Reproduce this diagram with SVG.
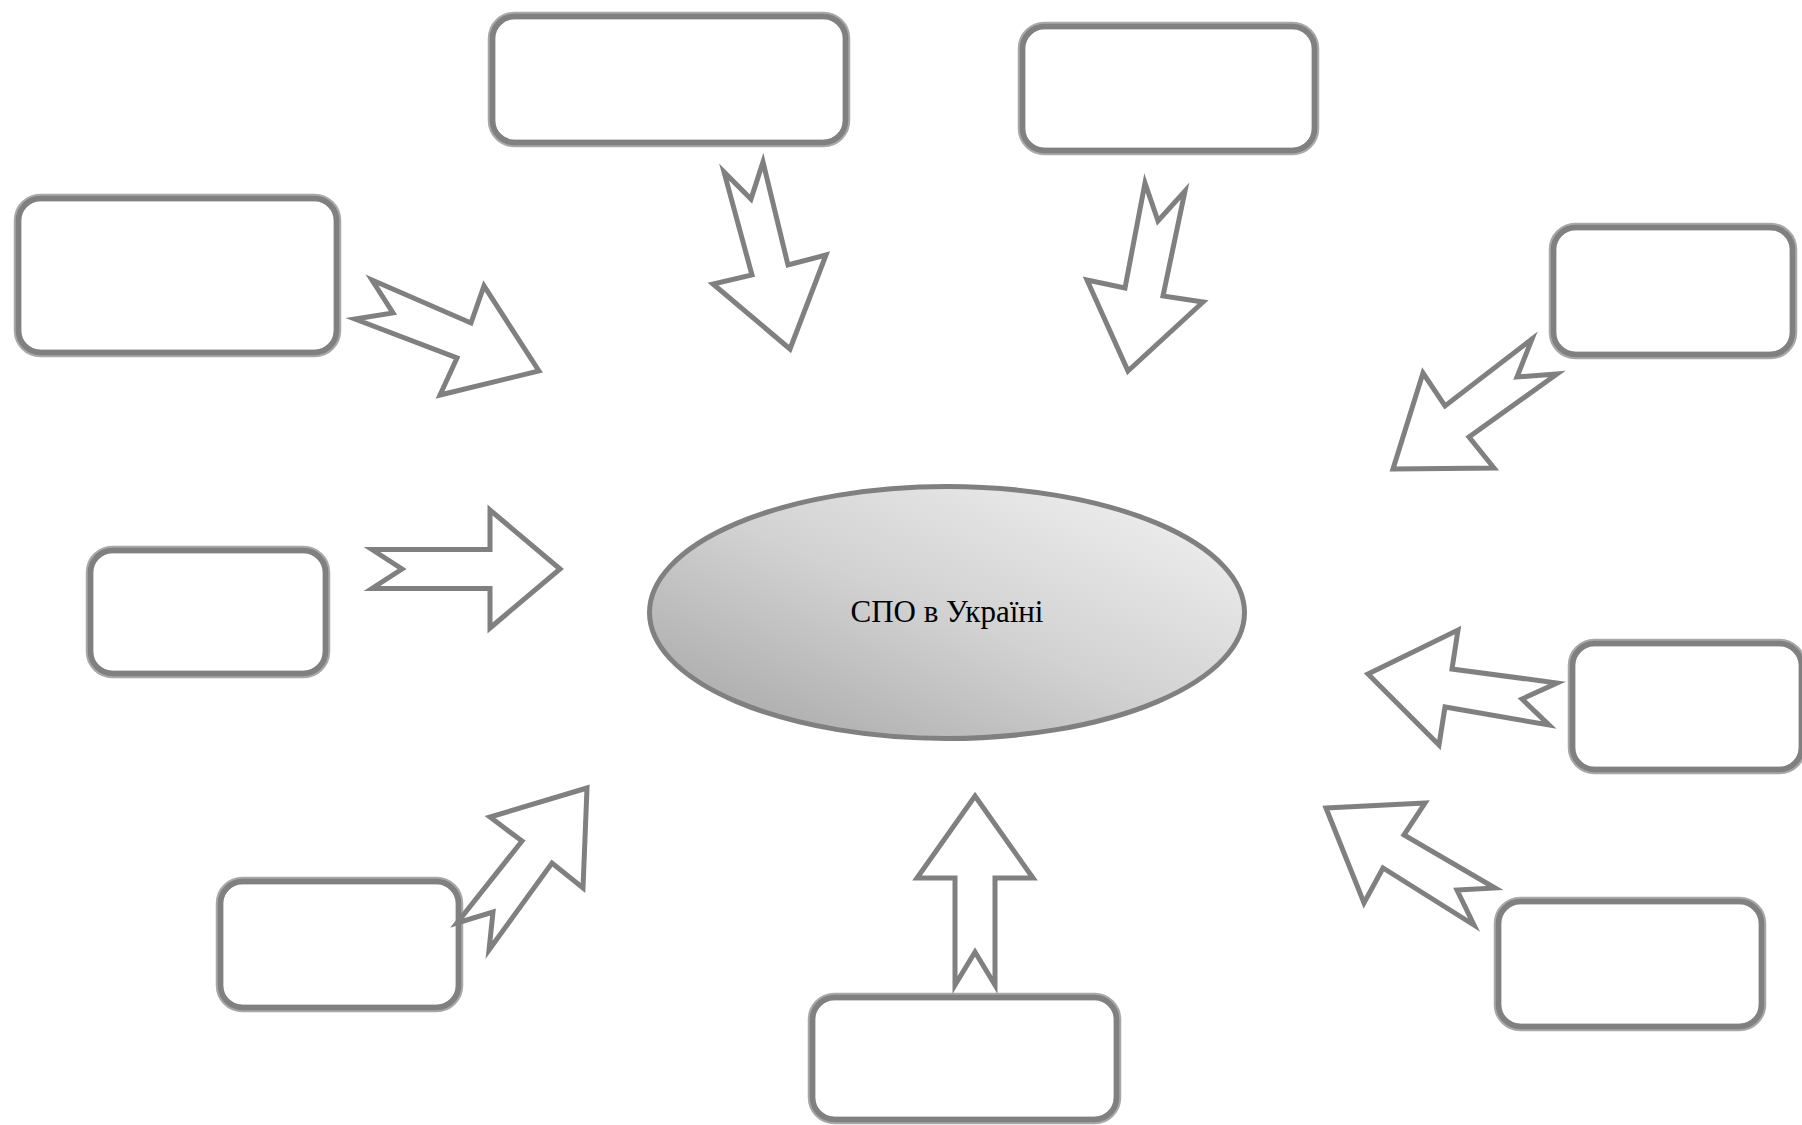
<svg xmlns="http://www.w3.org/2000/svg" width="1802" height="1125" viewBox="0 0 1802 1125">
  <style>
    .edge { fill: #ffffff; stroke: #a8a8a8; stroke-width: 7.5; }
    .line { fill: none; stroke: #808080; stroke-width: 5.5; }
    .arrow { fill: #ffffff; stroke: #808080; stroke-width: 5; stroke-linejoin: miter; stroke-miterlimit: 10; }
    .hub { stroke: #808080; stroke-width: 5; }
    .label { font-family: "Liberation Serif", "DejaVu Serif", serif; font-size: 31px; fill: #000000; }
  </style>
  <defs>
    <linearGradient id="hubFill" x1="0" y1="1" x2="1" y2="0">
      <stop offset="0" stop-color="#a3a3a3"/>
      <stop offset="0.5" stop-color="#d2d2d2"/>
      <stop offset="1" stop-color="#f4f4f4"/>
    </linearGradient>
  </defs>
  <rect width="1802" height="1125" fill="#ffffff"/>

  <!-- central topic -->
  <g id="hub">
    <ellipse class="hub" cx="947" cy="612.5" rx="297.5" ry="126" fill="url(#hubFill)"/>
    <text class="label" x="947" y="622" text-anchor="middle">СПО в Україні</text>
  </g>

  <!-- surrounding empty boxes: light outer rim with a darker inner band -->
  <g id="box-top-center">
    <rect class="edge" x="491.5" y="15.5" width="355" height="128" rx="23"/>
    <rect class="line" x="492.5" y="16.5" width="353" height="126" rx="22"/>
  </g>
  <g id="box-top-right">
    <rect class="edge" x="1021.5" y="25.5" width="294" height="126" rx="23"/>
    <rect class="line" x="1022.5" y="26.5" width="292" height="124" rx="22"/>
  </g>
  <g id="box-left-top">
    <rect class="edge" x="17.5" y="197.5" width="320" height="156" rx="23"/>
    <rect class="line" x="18.5" y="198.5" width="318" height="154" rx="22"/>
  </g>
  <g id="box-right-top">
    <rect class="edge" x="1552.5" y="226.5" width="241" height="129" rx="23"/>
    <rect class="line" x="1553.5" y="227.5" width="239" height="127" rx="22"/>
  </g>
  <g id="box-left-middle">
    <rect class="edge" x="89.5" y="549.5" width="237" height="125" rx="23"/>
    <rect class="line" x="90.5" y="550.5" width="235" height="123" rx="22"/>
  </g>
  <g id="box-right-middle">
    <rect class="edge" x="1571.5" y="642.5" width="231" height="128" rx="23"/>
    <rect class="line" x="1572.5" y="643.5" width="229" height="126" rx="22"/>
  </g>
  <g id="box-right-bottom">
    <rect class="edge" x="1497.5" y="900.5" width="265" height="127" rx="23"/>
    <rect class="line" x="1498.5" y="901.5" width="263" height="125" rx="22"/>
  </g>
  <g id="box-left-bottom">
    <rect class="edge" x="219.5" y="880.5" width="240" height="128" rx="23"/>
    <rect class="line" x="220.5" y="881.5" width="238" height="126" rx="22"/>
  </g>
  <g id="box-bottom-center">
    <rect class="edge" x="811.5" y="996.5" width="306" height="124" rx="23"/>
    <rect class="line" x="812.5" y="997.5" width="304" height="122" rx="22"/>
  </g>

  <!-- notched block arrows pointing at the central topic -->
  <g id="connectors">
    <polygon class="arrow" points="539,371 484,286 471,323 372,280 393,313 355,319 457,358 440,395"/>
    <polygon class="arrow" points="790,349 826,255 788,265 763,162 751,199 724,172 752,275 713,284"/>
    <polygon class="arrow" points="1128,371 1203,302 1163,296 1185,191 1158,221 1145,183 1125,288 1087,280"/>
    <polygon class="arrow" points="1393,469 1494,468 1469,437 1557,374 1517,377 1532,339 1445,406 1423,373"/>
    <polygon class="arrow" points="560,569 490,510 490,549.5 372,549.5 402,569 372,588.5 490,588.5 490,628"/>
    <polygon class="arrow" points="1368,674 1458,630 1452,669 1557,683 1522,699 1549,725 1445,707 1439,745"/>
    <polygon class="arrow" points="1326,808 1425,803 1404,835 1495,888 1457,890 1474,925 1383,868 1364,903"/>
    <polygon class="arrow" points="587,788 490,817 522,841 457,923 493,912 489,950 552,863 583,888"/>
    <polygon class="arrow" points="975,796 1033,878 995,878 995,985 975,952 955,985 955,878 917,878"/>
  </g>
</svg>
